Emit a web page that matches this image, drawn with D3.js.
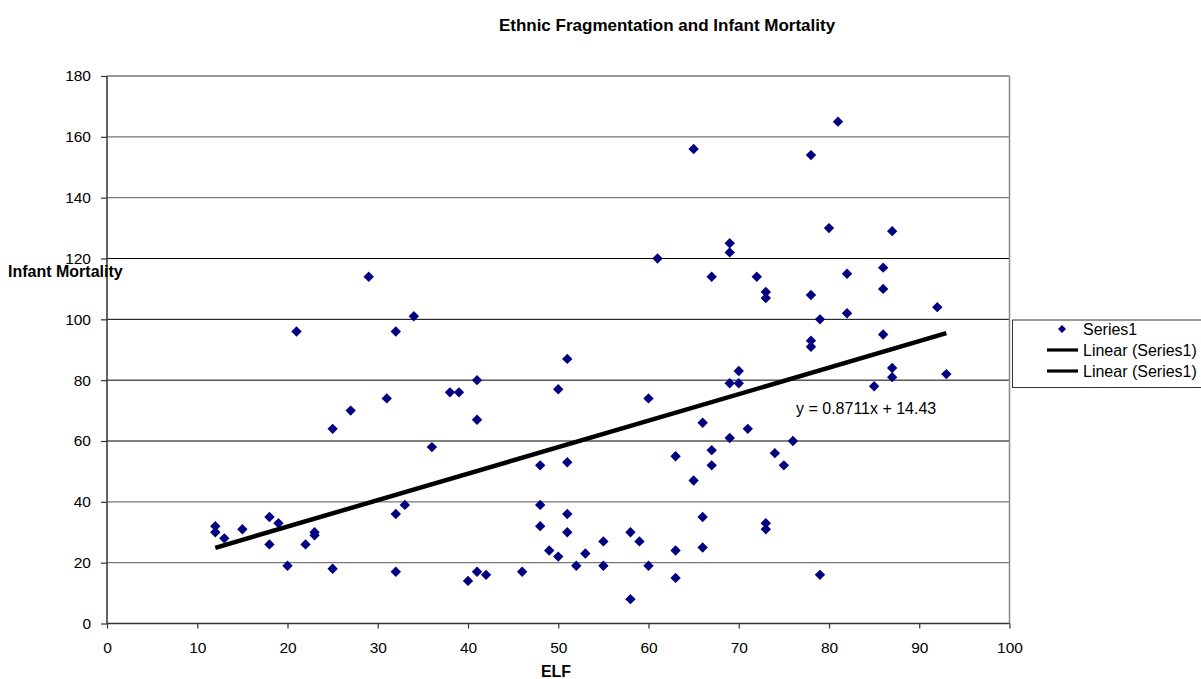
<!DOCTYPE html>
<html><head><meta charset="utf-8">
<script src="https://cdn.jsdelivr.net/npm/d3@7/dist/d3.min.js"></script>
<style>
body{margin:0;background:#fff;}
text{font-family:"Liberation Sans",Arial,sans-serif;}
</style></head>
<body><svg id="c" width="1201" height="679"></svg>
<script>
const elf = [12,12,13,15,18,18,19,20,22,23,23,25,25,21,27,29,31,32,32,32,33,34,36,38,39,41,41,41,42,40,46,48,48,48,49,50,50,51,51,51,51,52,53,55,55,58,58,59,60,60,61,63,63,63,65,65,66,66,66,67,67,67,69,69,69,69,70,70,71,72,73,73,73,73,74,75,76,78,78,78,78,79,79,80,81,82,82,85,86,86,86,87,87,87,92,93];
const mortality = [32,30,28,31,35,26,33,19,26,30,29,64,18,96,70,114,74,96,36,17,39,101,58,76,76,80,67,17,16,14,17,52,39,32,24,22,77,87,53,36,30,19,23,27,19,30,8,27,19,74,120,55,24,15,156,47,66,35,25,114,57,52,125,122,79,61,83,79,64,114,109,107,33,31,56,52,60,154,108,93,91,100,16,130,165,115,102,78,117,110,95,129,84,81,104,82];
const xTicks = [0,10,20,30,40,50,60,70,80,90,100];
const yTicks = [0,20,40,60,80,100,120,140,160,180];
const trendSlope = 0.8711, trendIntercept = 14.43;
const trendRange = [12, 93];
const legendItems = ["Series1","Linear (Series1)","Linear (Series1)"];

const svg = d3.select("#c");
const L=107, R=1009.5, T=76, B=623.5;
const x = d3.scaleLinear().domain([0,100]).range([L,R]);
const y = d3.scaleLinear().domain([0,180]).range([B,T]);

// gridlines
svg.append("g").selectAll("line").data(yTicks.filter(d=>d>0)).join("line")
  .attr("x1",L).attr("x2",R).attr("y1",d=>y(d)).attr("y2",d=>y(d))
  .attr("stroke",d=>(d>=140||d<=40)?"#777":"#000").attr("stroke-width",d=>(d>=140||d<=40)?1.3:1);
// right border
svg.append("line").attr("x1",R).attr("x2",R).attr("y1",T).attr("y2",B).attr("stroke","#888").attr("stroke-width",1.5);

// axes
const yAxis = d3.axisLeft(y).tickValues(yTicks).tickSize(6).tickPadding(10);
const xAxis = d3.axisBottom(x).tickValues(xTicks).tickSize(5).tickPadding(13);
const gy = svg.append("g").attr("transform",`translate(${L},0)`).call(yAxis);
const gx = svg.append("g").attr("transform",`translate(0,${B})`).call(xAxis);
[gy,gx].forEach(g=>{
  g.select(".domain").attr("stroke","#333").attr("stroke-width",1.5);
  g.selectAll(".tick line").attr("stroke","#333").attr("stroke-width",1.2);
  g.selectAll(".tick text").attr("font-size",15.5).attr("fill","#000").attr("font-family","Liberation Sans, Arial, sans-serif");
});
gy.select(".domain").attr("d",`M0,${B}V${T}`);
gx.select(".domain").attr("d",`M${L},0H${R}`);

// trend line
svg.append("line")
  .attr("x1",x(trendRange[0])).attr("y1",y(trendSlope*trendRange[0]+trendIntercept))
  .attr("x2",x(trendRange[1])).attr("y2",y(trendSlope*trendRange[1]+trendIntercept))
  .attr("stroke","#000").attr("stroke-width",4.5);

// points
const diamond = "M0,-5.2L5.2,0L0,5.2L-5.2,0Z";
svg.append("g").selectAll("path").data(elf.map((d,i)=>[d,mortality[i]])).join("path")
  .attr("d",diamond).attr("transform",d=>`translate(${x(d[0])},${y(d[1])})`)
  .attr("fill","#000080");

// equation
svg.append("text").attr("x",796).attr("y",414).attr("font-size",16).text("y = 0.8711x + 14.43");

// titles
svg.append("text").attr("x",667).attr("y",31).attr("text-anchor","middle").attr("font-size",17).attr("font-weight","bold").text("Ethnic Fragmentation and Infant Mortality");
svg.append("text").attr("x",556).attr("y",677).attr("text-anchor","middle").attr("font-size",16).attr("font-weight","bold").text("ELF");
svg.append("text").attr("x",8).attr("y",277).attr("font-size",16).attr("font-weight","bold").text("Infant Mortality");

// legend
const lg = svg.append("g");
lg.append("rect").attr("x",1012.5).attr("y",320).attr("width",200).attr("height",67.5).attr("fill","#fff").attr("stroke","#333").attr("stroke-width",1);
legendItems.forEach((t,i)=>{
  const cy = 329 + i*21;
  if(i===0){
    lg.append("path").attr("d","M0,-4L4,0L0,4L-4,0Z").attr("transform",`translate(1062,${cy})`).attr("fill","#000080");
  } else {
    lg.append("line").attr("x1",1047).attr("x2",1078).attr("y1",cy).attr("y2",cy).attr("stroke","#000").attr("stroke-width",3.2);
  }
  lg.append("text").attr("x",1083).attr("y",cy+5.5).attr("font-size",16).text(t);
});
</script></body></html>
